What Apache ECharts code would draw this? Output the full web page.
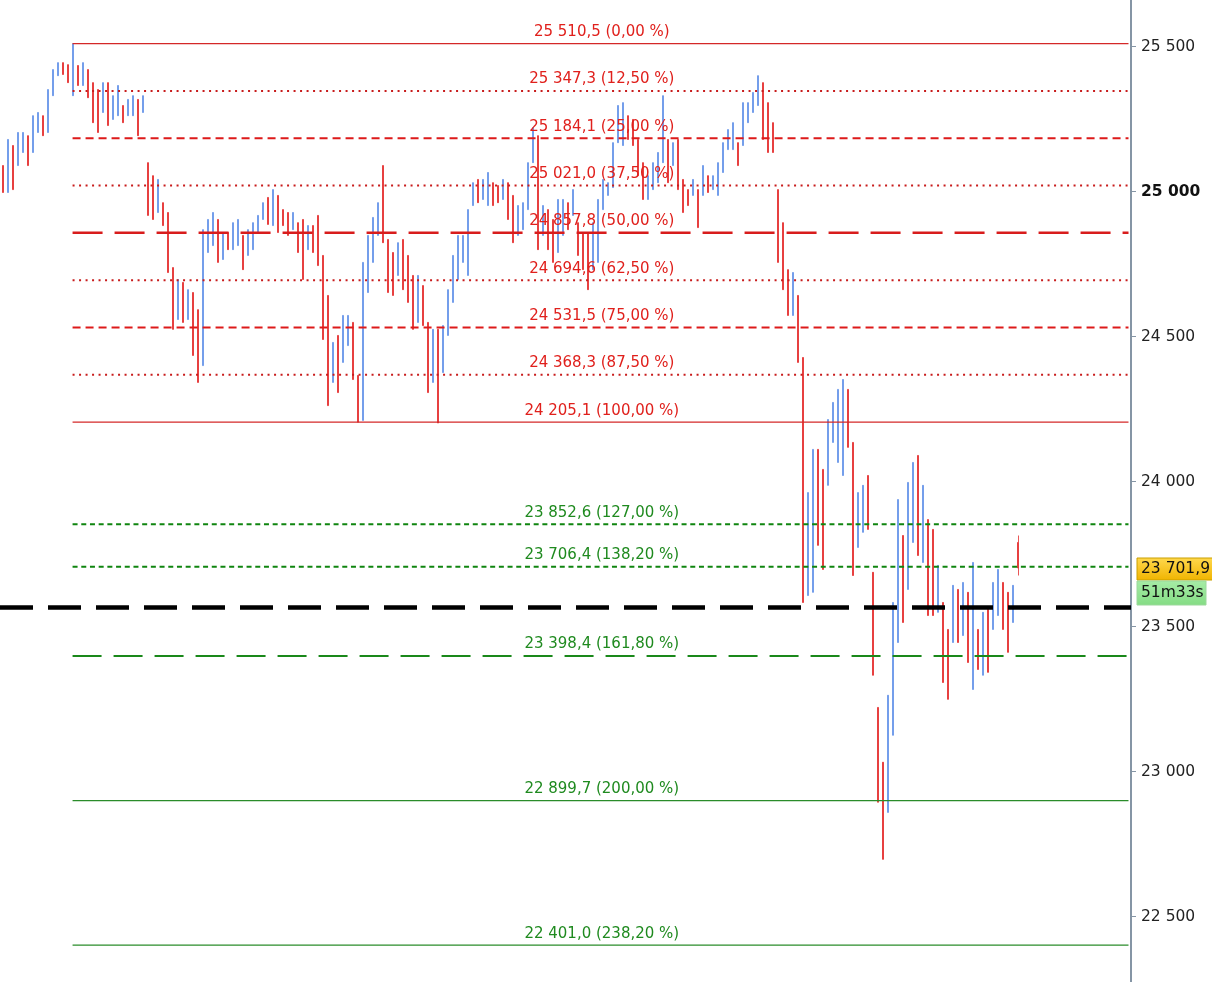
<!DOCTYPE html>
<html><head><meta charset="utf-8">
<script src="https://cdn.jsdelivr.net/npm/echarts@6/dist/echarts.min.js"></script>
<style>html,body{margin:0;padding:0;background:#fff}#c{width:1212px;height:982px}</style>
</head><body><div id="c"></div>
<script>
// ---------- data ----------
const highs = [
25090,25180,25159,25204,25204,25193,25262,25273,25262,25352,
25421,25445,25445,25438,25510.5,25435,25445,25421,25376,25352,
25376,25376,25331,25366,25297,25318,25331,25318,25331,25100,
25055,25042,24962,24928,24738,24697,24687,24662,24652,24593,
24869,24904,24928,24904,24859,24859,24893,24904,24849,24869,
24893,24918,24962,24980,25007,24987,24938,24928,24928,24893,
24904,24883,24883,24918,24780,24642,24480,24504,24573,24573,
24549,24366,24756,24849,24911,24962,25090,24835,24790,24824,
24835,24780,24711,24711,24676,24549,24525,24525,24538,24662,
24780,24849,24849,24938,25031,25042,25042,25066,25031,25021,
25042,25031,24987,24952,24962,25100,25221,25193,24952,24938,
24904,24973,24973,24962,25007,24893,24859,24859,24893,24973,
25042,25031,25169,25297,25307,25262,25249,25180,25100,25055,
25100,25135,25331,25180,25169,25180,25042,25007,25042,25007,
25090,25055,25055,25100,25169,25214,25238,25169,25307,25307,
25342,25400,25376,25307,25238,25007,24893,24731,24721,24642,
24428,23962,24111,24111,24042,24214,24273,24318,24352,24318,
24135,23962,23987,24021,23687,23221,23032,23263,23583,23938,
23814,23997,24066,24090,23987,23869,23835,23711,23583,23490,
23642,23628,23652,23618,23721,23490,23549,23559,23652,23697,
23652,23618,23642,23814
];
const lows = [
24997,24997,25007,25090,25135,25090,25135,25204,25193,25204,
25331,25400,25404,25376,25331,25366,25366,25324,25238,25204,
25273,25228,25249,25262,25238,25262,25262,25193,25273,24918,
24904,24928,24883,24721,24525,24559,24549,24559,24435,24342,
24400,24790,24814,24756,24766,24800,24800,24814,24731,24780,
24800,24859,24904,24887,24883,24859,24883,24849,24869,24790,
24697,24800,24790,24745,24490,24262,24342,24307,24411,24469,
24352,24205,24211,24652,24756,24849,24824,24652,24642,24711,
24662,24618,24525,24549,24538,24307,24342,24202,24376,24504,
24618,24697,24756,24711,24952,24962,24973,24952,24952,24962,
24973,24904,24824,24849,24869,24938,25100,24800,24849,24800,
24756,24790,24849,24869,24918,24780,24731,24662,24731,24756,
24938,24987,25014,25169,25159,25180,25159,25055,24973,24973,
25007,25031,25100,25031,25090,25007,24928,24952,24987,24876,
24987,24997,25007,24987,25066,25145,25145,25090,25159,25238,
25273,25297,25180,25135,25135,24756,24662,24573,24573,24411,
23583,23607,23618,23780,23697,23987,24135,24066,24021,24118,
23676,23773,23825,23835,23332,22894,22697,22859,23125,23445,
23514,23628,23790,23745,23721,23538,23538,23549,23307,23249,
23445,23445,23469,23376,23283,23352,23332,23342,23490,23538,
23490,23411,23514,23676
];
// u = rising bar (blue), d = falling bar (red)
const directions = [
"duduuduudu","uuddududdd","uduuduudud","dudddududd","uuududuudu",
"uuududddud","dudddduduu","dduuuudddu","dddudduduu","uuuuuduudd",
"udduuuudud","duududdduu","uuuuuddddu","uuududddud","uduuuuuduu",
"uuddddddud","duudduuuud","duudddduuu","duududdudd","ududududuu",
"ddud"
].join("");
const lastOpen = 23790;
const lastPrice = 23701.9;
const countdown = "51m33s";
const slotCount = 226;        // bar slots on the time axis (last ones still empty)
const fibStartSlot = 14;      // bar of the 0 % swing high
const fibValues = [25510.5,25347.3,25184.1,25021.0,24857.8,24694.6,24531.5,24368.3,24205.1,23852.6,23706.4,23398.4,22899.7,22401.0];
const fibPercents = ["0,00","12,50","25,00","37,50","50,00","62,50","75,00","87,50","100,00","127,00","138,20","161,80","200,00","238,20"];
const pivotLevel = 23565;
const axisLabelValues = [22500,23000,23500,24000,24500,25000,25500];
const yMin = 22274, yMax = 25661;

// ---------- helpers ----------
function grp(n){ return String(n).replace(/\B(?=(\d{3})+(?!\d))/g, " "); }
function fmt1(v){ const s = v.toFixed(1).split("."); return grp(s[0]) + "," + s[1]; }

// ---------- styles ----------
const RED_TXT = "#e0201c", GREEN_TXT = "#1f8a1f";
function styleFor(i){
  if (i === 0 || i === 8) return {color:"#d42828", width:1.2, type:"solid"};
  if (i === 12 || i === 13) return {color:"#2a8c2a", width:1.2, type:"solid"};
  if (i === 4) return {color:"#d81c1c", width:2.5, type:[30,12]};
  if (i === 11) return {color:"#1a881a", width:1.8, type:[29,12]};
  if (i === 9 || i === 10) return {color:"#0f850f", width:2, type:[5,3.7]};
  if (i === 2 || i === 6) return {color:"#dd1a1a", width:2, type:[8,5]};
  return {color:"#c81c1c", width:2, type:[2,4.5]};
}

const FONT = "DejaVu Sans";

const cats = Array.from({length: slotCount}, (_, i) => String(i));
const ohlc = highs.map((h, i) => {
  const l = lows[i];
  return directions[i] === "u" ? [l, h, l, h] : [h, l, l, h];
});
const last = ohlc.length - 1;
ohlc[last] = [lastOpen, lastPrice, lows[last], highs[last]];

// one overlay line series per retracement level
const fibSeries = fibValues.map((v, i) => {
  const ls = styleFor(i);
  return {
    type: "line", silent: true, z: 3, symbol: "none", showSymbol: false,
    color: ls.color,
    data: [[fibStartSlot, v], [slotCount - 1, v]],
    lineStyle: { color: ls.color, width: ls.width, type: ls.type }
  };
});

const chart = echarts.init(document.getElementById("c"), null, {renderer: "canvas", width: 1212, height: 982});
const gridRight = 81;
chart.setOption({
  animation: false,
  backgroundColor: "#ffffff",
  grid: { left: 0, right: gridRight, top: 0, bottom: 0 },
  xAxis: { type: "category", data: cats, show: false, boundaryGap: true },
  yAxis: {
    type: "value", position: "right", min: yMin, max: yMax, scale: true,
    splitLine: { show: false },
    axisLine: { show: true, lineStyle: { color: "#8595a5", width: 2 } },
    axisTick: { show: true, length: 5, inside: false, customValues: axisLabelValues, lineStyle: { color: "#8595a5", width: 1 } },
    axisLabel: {
      customValues: axisLabelValues, margin: 10, color: "#222", fontFamily: FONT, fontSize: 15.5,
      formatter: v => v === 25000 ? "{b|" + grp(v) + "}" : grp(v),
      rich: { b: { fontWeight: "bold", fontFamily: FONT, fontSize: 15.5, color: "#111" } }
    }
  },
  series: [{
    type: "candlestick",
    data: ohlc,
    barWidth: 1.5,
    z: 2,
    itemStyle: { color: "#6593e8", color0: "#e42b2b", borderColor: "#6593e8", borderColor0: "#e42b2b", borderWidth: 0.8 },
    markLine: { silent: true, symbol: ["none","none"], animation: false,
      data: [{ yAxis: pivotLevel, lineStyle: {color:"#000", width:4.5, type:[33,15]}, label:{show:false} }] }
  }].concat(fibSeries)
});

// level captions, price tag and countdown, positioned through the chart's axes
const axisX = 1212 - gridRight;
const startX = chart.convertToPixel({ xAxisIndex: 0 }, fibStartSlot);
const captionX = (startX + axisX) / 2;
const captions = fibValues.map((v, i) => ({
  type: "text", z: 90, silent: true,
  style: { x: captionX, y: chart.convertToPixel({ yAxisIndex: 0 }, v) - 4,
           text: fmt1(v) + " (" + fibPercents[i] + " %)",
           fontFamily: FONT, fontSize: 15, fill: i >= 9 ? GREEN_TXT : RED_TXT,
           align: "center", verticalAlign: "bottom" }
}));
const yPix = chart.convertToPixel({ yAxisIndex: 0 }, lastPrice);
chart.setOption({
  graphic: captions.concat([
    { type: "rect", z: 100, shape: { x: axisX + 6, y: yPix - 10, width: 80, height: 22 },
      style: { fill: new echarts.graphic.LinearGradient(0,0,0,1,[{offset:0,color:"#ffd84e"},{offset:1,color:"#f0b400"}]), stroke: "#caa000", lineWidth: 1 } },
    { type: "text", z: 101, style: { x: axisX + 10, y: yPix + 1, text: fmt1(lastPrice), fontFamily: FONT, fontSize: 15.5, fill: "#111", verticalAlign: "middle" } },
    { type: "rect", z: 100, shape: { x: axisX + 6, y: yPix + 13, width: 69, height: 24 },
      style: { fill: new echarts.graphic.LinearGradient(0,0,0,1,[{offset:0,color:"#a6eca6"},{offset:1,color:"#84dc84"}]), stroke: "#9bd89b", lineWidth: 1 } },
    { type: "text", z: 101, style: { x: axisX + 10, y: yPix + 25, text: countdown, fontFamily: FONT, fontSize: 15.5, fill: "#111", verticalAlign: "middle" } }
  ])
});
</script>
</body></html>
